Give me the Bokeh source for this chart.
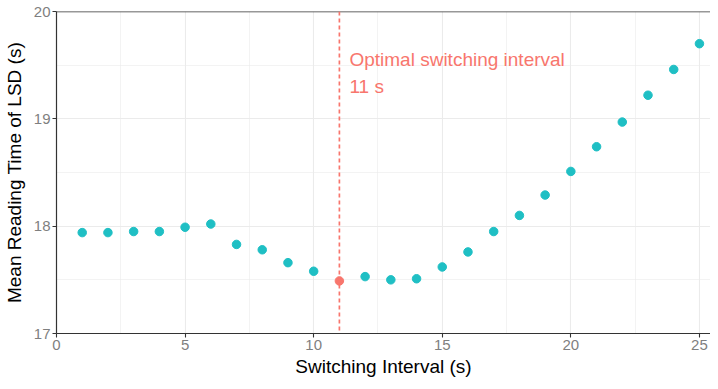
import numpy as np
from bokeh.plotting import figure
from bokeh.models import Range1d, Span, FixedTicker
from bokeh.core.properties import value
from bokeh.embed import file_html
from bokeh.resources import INLINE

# ---- data ----
interval = [1, 2, 3, 4, 5, 6, 7, 8, 9, 10, 11, 12, 13,
            14, 15, 16, 17, 18, 19, 20, 21, 22, 23, 24, 25]
mean_time = [17.94, 17.94, 17.95, 17.95, 17.99, 18.02, 17.83, 17.78, 17.66,
             17.58, 17.49, 17.53, 17.50, 17.51, 17.62, 17.76, 17.95, 18.10,
             18.29, 18.51, 18.74, 18.97, 19.22, 19.46, 19.70]
x_ticks = [0, 5, 10, 15, 20, 25]
y_ticks = [17, 18, 19, 20]

opt_idx = int(np.argmin(mean_time))
opt_x = interval[opt_idx]
opt_y = mean_time[opt_idx]

teal = "#1FBFC4"
red = "#F8766D"
FONT = "Liberation Sans"

p = figure(width=710, height=381,
           x_range=Range1d(0, 25.43), y_range=Range1d(17, 20),
           output_backend="svg", toolbar_location=None,
           min_border_left=55, min_border_right=0,
           min_border_top=11, min_border_bottom=48)

p.outline_line_color = None
p.background_fill_color = "white"
p.border_fill_color = "white"

# grid
for g in (p.xgrid[0], p.ygrid[0]):
    g.grid_line_color = "#EBEBEB"
    g.grid_line_width = 1.1
    g.minor_grid_line_color = "#EBEBEB"
    g.minor_grid_line_width = 0.6

p.xaxis.ticker = FixedTicker(ticks=x_ticks, minor_ticks=[2.5, 7.5, 12.5, 17.5, 22.5])
p.yaxis.ticker = FixedTicker(ticks=y_ticks, minor_ticks=[17.5, 18.5, 19.5])

for ax in (p.xaxis[0], p.yaxis[0]):
    ax.axis_line_color = "#333333"
    ax.axis_line_width = 1.2
    ax.major_tick_line_color = "#333333"
    ax.major_tick_line_width = 1.1
    ax.major_tick_out = 4
    ax.major_tick_in = 0
    ax.minor_tick_line_color = None
    ax.major_label_text_color = "#7F7F7F"
    ax.major_label_text_font = FONT
    ax.major_label_text_font_size = "15px"
    ax.major_label_standoff = 2
    ax.axis_label_text_font = FONT
    ax.axis_label_text_font_size = "19px"
    ax.axis_label_text_font_style = "normal"
    ax.axis_label_text_color = "black"
    ax.axis_label_standoff = 3
p.yaxis.axis_label_standoff = 6

p.xaxis.axis_label = "Switching Interval (s)"
p.yaxis.axis_label = "Mean Reading Time of LSD (s)"

# top border line
p.add_layout(Span(location=20, dimension="width", line_color="#333333", line_width=1.4))

# optimal vertical dashed line
p.add_layout(Span(location=opt_x, dimension="height", line_color=red,
                  line_width=1.7, line_dash="4 3"))

others_x = [x for i, x in enumerate(interval) if i != opt_idx]
others_y = [y for i, y in enumerate(mean_time) if i != opt_idx]
p.scatter(others_x, others_y, size=8.5, fill_color=teal, line_color=teal)
p.scatter([opt_x], [opt_y], size=8.5, fill_color=red, line_color=red)

# annotation
p.text(x=[opt_x + 0.39], y=[19.55], text=["Optimal switching interval"],
       text_color=red, text_font=value(FONT), text_font_size="19px",
       text_baseline="alphabetic", text_align="left")
p.text(x=[opt_x + 0.39], y=[19.3], text=[f"{opt_x} s"],
       text_color=red, text_font=value(FONT), text_font_size="19px",
       text_baseline="alphabetic", text_align="left")

open("out.html", "w").write(file_html(p, INLINE))
